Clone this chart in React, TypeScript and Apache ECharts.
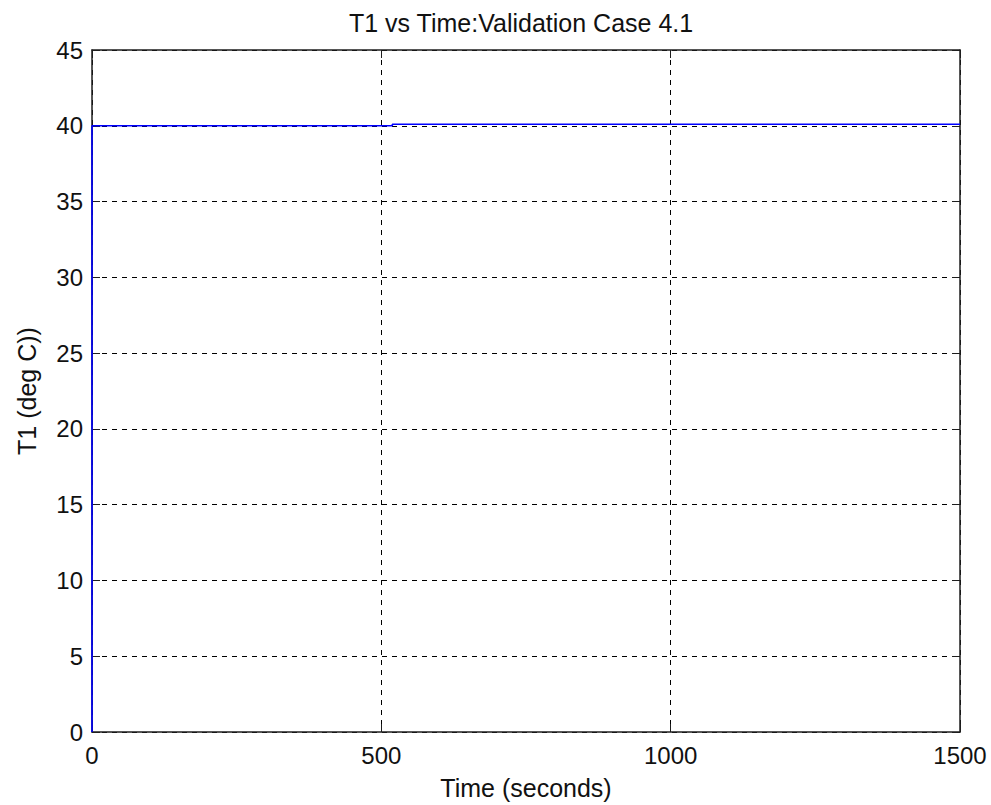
import React, { useEffect, useRef } from "react";
import * as echarts from "echarts";

// Temperature trace T1 against time
const timeSeconds = [0, 0, 519, 519, 1500];
const t1DegC = [0, 40, 40, 40.1, 40.1];

const xTicks = [0, 500, 1000, 1500];
const yTicks = [0, 5, 10, 15, 20, 25, 30, 35, 40, 45];

const titleText = "T1 vs Time:Validation Case 4.1";
const xName = "Time (seconds)";
const yName = "T1 (deg C))";

const FONT = "'Liberation Sans', Arial, Helvetica, sans-serif";

export default function App() {
  const ref = useRef<HTMLDivElement>(null);

  useEffect(() => {
    document.body.style.margin = "0";
    if (!ref.current) return;
    const chart = echarts.init(ref.current, undefined, { renderer: "svg" });

    const xMin = xTicks[0];
    const xMax = xTicks[xTicks.length - 1];
    const xStep = xTicks[1] - xTicks[0];
    const yMin = yTicks[0];
    const yMax = yTicks[yTicks.length - 1];
    const yStep = yTicks[1] - yTicks[0];

    const axisLine = { show: true, onZero: false, lineStyle: { color: "#1e1e1e", width: 1.5 } };
    const axisTick = { show: true, inside: true, length: 8, lineStyle: { color: "#1e1e1e", width: 1 } };
    const gridLine = {
      show: true,
      lineStyle: { color: "#000", width: 1, type: [5, 5] as number[] },
    };
    const labelStyle = { fontFamily: FONT, fontSize: 24, color: "#111" };
    const plain = (v: number) => String(v);

    chart.setOption({
      animation: false,
      backgroundColor: "#fff",
      title: {
        text: titleText,
        left: 344,
        top: 5,
        textStyle: { fontFamily: FONT, fontSize: 25, fontWeight: "normal", color: "#111" },
      },
      grid: { left: 92, top: 50, right: 31, bottom: 71, containLabel: false },
      xAxis: [
        {
          type: "value",
          position: "bottom",
          min: xMin,
          max: xMax,
          interval: xStep,
          name: xName,
          nameLocation: "middle",
          nameGap: 43,
          nameTextStyle: { fontFamily: FONT, fontSize: 25, color: "#111" },
          axisLine,
          axisTick,
          axisLabel: { ...labelStyle, margin: 11, formatter: plain },
          splitLine: gridLine,
        },
        {
          type: "value",
          position: "top",
          min: xMin,
          max: xMax,
          interval: xStep,
          axisLine,
          axisTick,
          axisLabel: { show: false },
          splitLine: { show: false },
        },
      ],
      yAxis: [
        {
          type: "value",
          position: "left",
          min: yMin,
          max: yMax,
          interval: yStep,
          name: yName,
          nameLocation: "middle",
          nameGap: 53,
          nameTextStyle: { fontFamily: FONT, fontSize: 25, color: "#111" },
          axisLine,
          axisTick,
          axisLabel: { ...labelStyle, margin: 9, formatter: plain },
          splitLine: gridLine,
        },
        {
          type: "value",
          position: "right",
          min: yMin,
          max: yMax,
          interval: yStep,
          axisLine,
          axisTick,
          axisLabel: { show: false },
          splitLine: { show: false },
        },
      ],
      series: [
        {
          type: "line",
          xAxisIndex: 0,
          yAxisIndex: 0,
          data: timeSeconds.map((t, i) => [t, t1DegC[i]]),
          showSymbol: false,
          clip: false,
          z: 5,
          lineStyle: { color: "#0000ff", width: 1.6 },
        },
      ],
    });

    return () => chart.dispose();
  }, []);

  return <div ref={ref} style={{ width: 991, height: 805 }} />;
}
